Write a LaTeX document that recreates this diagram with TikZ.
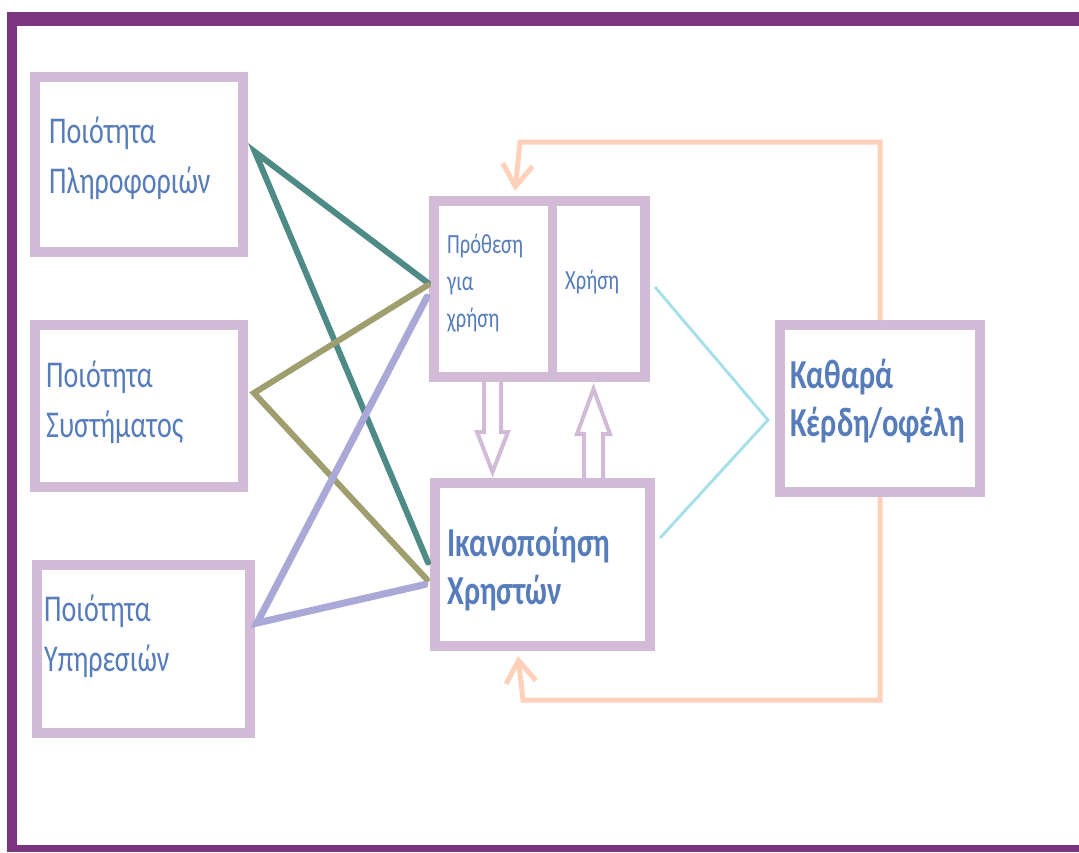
\documentclass[tikz,border=0pt]{standalone}
\usepackage{graphicx}
\usepackage{fontspec}
\setmainfont{Carlito}
\usetikzlibrary{arrows.meta,calc}
\definecolor{framecol}{RGB}{123,53,128}
\definecolor{boxline}{RGB}{209,187,215}
\definecolor{txtblue}{RGB}{86,124,186}
\definecolor{cteal}{RGB}{78,139,135}
\definecolor{colive}{RGB}{158,158,110}
\definecolor{clav}{RGB}{170,168,214}
\definecolor{ccyan}{RGB}{168,224,234}
\definecolor{cpeach}{RGB}{255,208,186}
% tall lettering
\newcommand{\tallrow}[1]{\scalebox{1}[1.35]{#1}}
\begin{document}
\begin{tikzpicture}[x=1pt,y=-1pt,
  box/.style={draw=boxline, line width=10pt, fill=white, inner sep=0pt, line join=miter},
  lbl/.style={anchor=west, align=left, text=txtblue, inner sep=0pt},
  small/.style={font=\fontsize{20.5}{37}\selectfont},
  large/.style={font=\fontsize{28}{50}\selectfont},
  heavy/.style={font=\bfseries\fontsize{30.5}{48}\selectfont},
  link/.style={line width=6pt, line cap=round},
  feedback/.style={draw=cpeach, line width=5pt, line join=miter,
    -{Straight Barb[length=22pt,width=30pt,line width=5pt]}},
  hollow/.style={draw=boxline, line width=4pt, fill=white, line join=miter}]

\useasboundingbox (0,0) rectangle (1079,852);

% outer frame, open on the right
\fill[framecol] (7,12) rectangle (1079,26);
\fill[framecol] (7,12) rectangle (17,852);
\fill[framecol] (7,845) rectangle (1079,852);

% hollow arrows between the two middle boxes
\draw[hollow] (484,376) -- (484,432) -- (477,432) -- (492.5,472) -- (508,432)
  -- (501,432) -- (501,376) -- cycle;
\draw[hollow] (584,484) -- (584,434) -- (577,434) -- (593.5,389) -- (610,434)
  -- (603,434) -- (603,484) -- cycle;

% boxes
\node[box, minimum width=208pt, minimum height=175pt] (q1) at (139,164.5) {};
\node[box, minimum width=208pt, minimum height=162pt] (q2) at (139,406) {};
\node[box, minimum width=213pt, minimum height=168pt] (q3) at (143.5,649) {};
\node[box, minimum width=211pt, minimum height=176pt] (tm) at (539.5,289) {};
\node[box, minimum width=215pt, minimum height=163pt] (bm) at (542.5,564.5) {};
\node[box, minimum width=200pt, minimum height=167pt] (rb) at (880,408.5) {};
\draw[draw=boxline, line width=9pt] (tm.north -| 552.5,0) -- (tm.south -| 552.5,0);

% texts
\node[lbl, large] (t1) at (49,158) {\tallrow{Ποιότητα}\\\tallrow{Πληροφοριών}};
\node[lbl, large] (t2) at (46,402) {\tallrow{Ποιότητα}\\\tallrow{Συστήματος}};
\node[lbl, large] (t3) at (44,636) {\tallrow{Ποιότητα}\\\tallrow{Υπηρεσιών}};
\node[lbl, small] (t4) at (447,283) {\tallrow{Πρόθεση}\\\tallrow{για}\\\tallrow{χρήση}};
\node[lbl, small] (t5) at (565,282) {\tallrow{Χρήση}};
\node[lbl, heavy] (t6) at (447,569) {\tallrow{Ικανοποίηση}\\\tallrow{Χρηστών}};
\node[lbl, heavy] (t7) at (790,401) {\tallrow{Καθαρά}\\\tallrow{Κέρδη/οφέλη}};

% attachment points of the links
\coordinate (q1o) at ($(q1.east)+(7,-12.5)$);
\coordinate (q2o) at ($(q2.east)+(6,-13)$);
\coordinate (q3o) at ($(q3.east)+(2,-26)$);
\coordinate (tmA) at ($(tm.west)+(-1,-6)$);
\coordinate (tmB) at ($(tm.west)+(-1,-4)$);
\coordinate (tmC) at ($(tm.west)+(-2,8)$);
\coordinate (bmA) at ($(bm.west)+(-2,-2)$);
\coordinate (bmB) at ($(bm.west)+(-3,15)$);
\coordinate (bmC) at ($(bm.west)+(-5,20)$);
\coordinate (tmE) at ($(tm.east)+(5,-2)$);
\coordinate (bmE) at ($(bm.east)+(5,-26.5)$);
\coordinate (rbW) at ($(rb.west)+(-7,11.5)$);

% links from the quality boxes
\draw[link, cteal] (tmA) -- (q1o) -- (bmA);
\draw[link, colive] (tmB) -- (q2o) -- (bmB);
\draw[link, clav, line width=7pt] (tmC) -- (q3o) -- (bmC);

% links to net benefits
\draw[ccyan, line width=3pt] (tmE) -- (rbW) -- (bmE);

% feedback loops
\draw[feedback] (rb.north) |- (520,142) -- ($(tm.north west)+(86,-5)$);
\draw[feedback] (rb.south) |- (523,700) -- ($(bm.south west)+(88,5)$);

\end{tikzpicture}
\end{document}
